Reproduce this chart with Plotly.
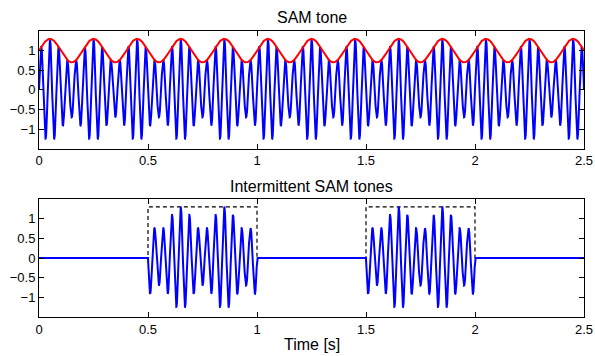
import numpy as np
import plotly.graph_objects as go
from plotly.subplots import make_subplots

# ---- signal parameters ----
carrier_hz = 25.0          # carrier frequency
mod_hz = 5.0               # modulation frequency
mod_depth = 0.3            # envelope swings 0.7 .. 1.3
duration_s = 2.5
n_samples = 5001
tone_on = [0.5, 1.5]       # onsets of intermittent tones [s]
tone_off = [1.0, 2.0]      # offsets of intermittent tones [s]

x_ticks = [0, 0.5, 1, 1.5, 2, 2.5]
x_tick_text = ["0", "0.5", "1", "1.5", "2", "2.5"]
y_ticks = [-1, -0.5, 0, 0.5, 1]
y_tick_text = ["\u22121", "\u22120.5", "0", "0.5", "1"]

titles = ["SAM tone", "Intermittent SAM tones"]
x_label = "Time [s]"

# ---- build signals ----
t = np.linspace(0, duration_s, n_samples)
envelope = 1 + mod_depth * np.sin(2 * np.pi * mod_hz * t)
sam = envelope * np.sin(2 * np.pi * carrier_hz * t)

gate = np.zeros_like(t)
for a, b in zip(tone_on, tone_off):
    gate[(t >= a) & (t <= b)] = 1.0
intermittent = sam * gate

# dashed window outline
win_x, win_y = [0.0], [0.0]
for a, b in zip(tone_on, tone_off):
    win_x += [a, a, b, b]
    win_y += [0, 1 + mod_depth, 1 + mod_depth, 0]
win_x.append(duration_s)
win_y.append(0.0)

FONT = "Liberation Sans, Arial, sans-serif"

fig = make_subplots(rows=2, cols=1)
fig.add_trace(go.Scatter(x=t, y=sam, mode="lines",
                         line=dict(color="#0000ff", width=2)), row=1, col=1)
fig.add_trace(go.Scatter(x=t, y=envelope, mode="lines",
                         line=dict(color="#ff0000", width=2)), row=1, col=1)
fig.add_trace(go.Scatter(x=win_x, y=win_y, mode="lines",
                         line=dict(color="black", width=1.2, dash="4px,3px")), row=2, col=1)
fig.add_trace(go.Scatter(x=t, y=intermittent, mode="lines",
                         line=dict(color="#0000ff", width=2)), row=2, col=1)

axis_common = dict(showline=True, linecolor="black", linewidth=1, mirror="ticks",
                   ticks="inside", ticklen=5, tickcolor="black", showgrid=False,
                   zeroline=False, automargin=False,
                   tickfont=dict(size=13, color="black", family=FONT))

fig.update_xaxes(range=[0, duration_s], tickvals=x_ticks, ticktext=x_tick_text, **axis_common)
fig.update_yaxes(range=[-1.5, 1.5], tickvals=y_ticks, ticktext=y_tick_text, **axis_common)

plot_top, plot_bottom = 31.3, 356 - 39.3

def py(pix):
    return (plot_bottom - pix) / (plot_bottom - plot_top)

fig.update_layout(
    width=595, height=356,
    margin=dict(l=38.5, r=10.7, t=31.3, b=39.3, autoexpand=False),
    plot_bgcolor="white", paper_bgcolor="white",
    showlegend=False,
    xaxis=dict(domain=[0, 1]),
    yaxis=dict(domain=[0.5887, 1]),
    xaxis2=dict(domain=[0, 1]),
    yaxis2=dict(domain=[0, 0.4124]),
    font=dict(family=FONT, color="black"),
    annotations=[
        dict(text=titles[0], x=0.5, y=py(18), xref="paper", yref="paper", showarrow=False,
             yanchor="middle", font=dict(size=16, family=FONT, color="black")),
        dict(text=titles[1], x=0.5, y=py(186), xref="paper", yref="paper", showarrow=False,
             yanchor="middle", font=dict(size=16, family=FONT, color="black")),
        dict(text=x_label, x=0.5, y=py(344), xref="paper", yref="paper", showarrow=False,
             yanchor="middle", font=dict(size=16, family=FONT, color="black")),
    ],
)

fig.write_html(
    "out.html",
    config={"displayModeBar": False},
    post_script="document.body.style.margin='0';document.body.style.overflow='hidden';",
)
